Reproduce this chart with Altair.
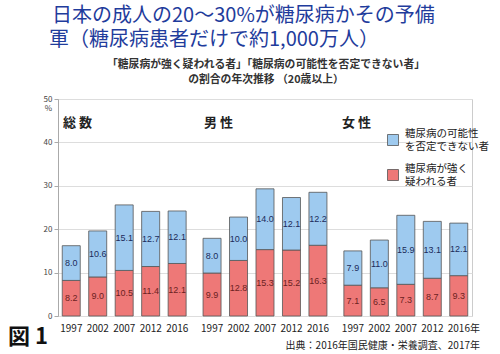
import altair as alt
import pandas as pd

groups = ["総数", "男性", "女性"]
years = ["1997", "2002", "2007", "2012", "2016"]
strong = [8.2, 9.0, 10.5, 11.4, 12.1, 9.9, 12.8, 15.3, 15.2, 16.3, 7.1, 6.5, 7.3, 8.7, 9.3]
possible = [8.0, 10.6, 15.1, 12.7, 12.1, 8.0, 10.0, 14.0, 12.1, 12.2, 7.9, 11.0, 15.9, 13.1, 12.1]
cat_possible = "糖尿病の可能性を否定できない者"
cat_strong = "糖尿病が強く疑われる者"
panel_labels = ["総 数", "男 性", "女 性"]

rows = []
ylab = []
for gi, g in enumerate(groups):
    for yi, y in enumerate(years):
        k = gi * 5 + yi
        rows.append({"group": g, "year": y, "cat": cat_strong, "ord": 0, "value": strong[k]})
        rows.append({"group": g, "year": y, "cat": cat_possible, "ord": 1, "value": possible[k]})
        ylab.append({"group": g, "year": y,
                     "label": y + ("年" if (gi == len(groups) - 1 and yi == len(years) - 1) else "")})
df = pd.DataFrame(rows)
ydf = pd.DataFrame(ylab)

FONT = "Noto Sans CJK JP"
xenc = alt.X("group:N", sort=groups, axis=None,
             scale=alt.Scale(paddingInner=0.06, paddingOuter=0))
xoff = alt.XOffset("year:N", sort=years,
                   scale=alt.Scale(paddingInner=0.32, paddingOuter=0.16))
yscale = alt.Scale(domain=[0, 50])

bars = alt.Chart(df).mark_bar(stroke="#555555", strokeWidth=0.8).encode(
    x=xenc, xOffset=xoff,
    y=alt.Y("value:Q", stack="zero", scale=yscale,
            axis=alt.Axis(values=[0, 10, 20, 30, 40, 50], title=None, grid=True,
                          gridColor="#dddddd", domainColor="#aaaaaa", tickColor="#aaaaaa",
                          tickSize=4, labelFontSize=8, labelColor="#444444",
                          labelPadding=2, labelFont=FONT)),
    color=alt.Color("cat:N", scale=alt.Scale(domain=[cat_possible, cat_strong],
                                             range=["#9ECAEF", "#EE7877"]),
                    legend=alt.Legend(
                        title=None, orient="none", legendX=329, legendY=35,
                        symbolType="square", symbolSize=121, symbolStrokeColor="#555555",
                        symbolStrokeWidth=0.8, symbolOpacity=1,
                        labelFont=FONT, labelFontSize=10.5, labelColor="#222222",
                        labelLimit=0, labelOffset=6, rowPadding=12,
                        labelBaseline="line-bottom",
                        labelExpr="datum.label == '" + cat_possible + "' ? ['糖尿病の可能性', 'を否定できない者'] : ['糖尿病が強く', '疑われる者']")),
    order=alt.Order("ord:Q"),
)

vals = alt.Chart(df).transform_stack(
    stack="value", groupby=["group", "year"], sort=[alt.SortField("ord")], as_=["v0", "v1"]
).transform_calculate(
    mid="(datum.v0 + datum.v1) / 2",
    tc="datum.ord == 0 ? '#6b1f1f' : '#1b2a5a'"
).mark_text(fontSize=9, font="Liberation Sans", baseline="middle").encode(
    x=xenc, xOffset=xoff,
    y=alt.Y("mid:Q", scale=yscale),
    text=alt.Text("value:Q", format=".1f"),
    color=alt.Color("tc:N", scale=None),
)

yearlabels = alt.Chart(ydf).mark_text(
    align="left", dx=-11, dy=16, baseline="alphabetic", fontSize=10, font=FONT, color="#222222"
).encode(x=xenc, xOffset=xoff, y=alt.datum(0), text="label:N")

def note(text, x, y, size, color="#222222", weight="normal", align="left", baseline="alphabetic"):
    return alt.Chart(pd.DataFrame({"t": [text]})).mark_text(
        align=align, baseline=baseline, fontSize=size, font=FONT, color=color, fontWeight=weight
    ).encode(x=alt.value(x), y=alt.value(y), text="t:N")

notes = [
    note("日本の成人の20～30%が糖尿病かその予備", -6, -77, 20, "#1f3c9c"),
    note("軍（糖尿病患者だけで約1,000万人）", -9, -53, 20, "#1f3c9c"),
    note("「糖尿病が強く疑われる者」「糖尿病の可能性を否定できない者」", 208, -31, 10.8, "#333333", "bold", "center"),
    note("の割合の年次推移 （20歳以上）", 208, -16, 10.8, "#333333", "bold", "center"),
    note(panel_labels[0], 5, 28, 13, "#222222", "bold"),
    note(panel_labels[1], 146, 28, 13, "#222222", "bold"),
    note(panel_labels[2], 284, 28, 13, "#222222", "bold"),
    note("%", -6, 10, 8, "#444444", "normal", "right", "middle"),
    note("図 1", -50, 245, 22, "#111111", "bold"),
    note("出典：2016年国民健康・栄養調査、2017年", 422, 250, 10, "#222222", "normal", "right"),
]

chart = alt.layer(bars, vals, yearlabels, *notes).properties(
    width=414, height=217,
    autosize=alt.AutoSizeParams(type="none"),
    padding={"left": 58, "top": 99, "right": 28, "bottom": 38},
    background="white",
).configure_view(stroke="#cccccc")

chart.save("out.html", embed_options={"renderer": "svg", "actions": False})
